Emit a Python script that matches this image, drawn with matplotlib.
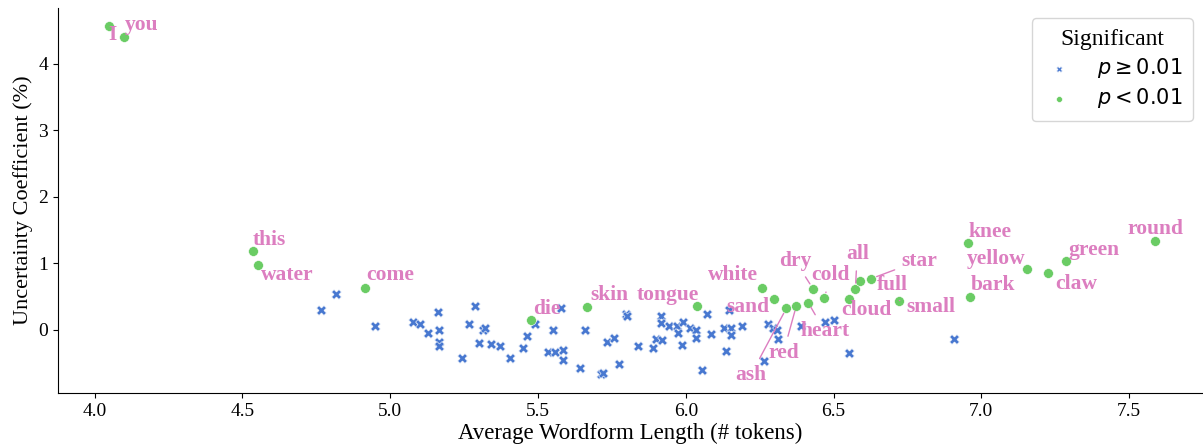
import matplotlib
matplotlib.use("Agg")
import matplotlib.pyplot as plt

# significant words (p < 0.01)
sig_words = ["I", "you", "this", "water", "come", "die", "skin", "tongue", "white", "sand",
             "ash", "red", "heart", "dry", "cold", "cloud", "all", "full", "star", "small",
             "knee", "bark", "yellow", "claw", "green", "round"]
sig_len = [4.047, 4.10, 4.535, 4.552, 4.914, 5.476, 5.666, 6.039, 6.259, 6.30,
           6.34, 6.374, 6.414, 6.43, 6.469, 6.553, 6.574, 6.59, 6.628, 6.723,
           6.956, 6.963, 7.156, 7.224, 7.285, 7.586]
sig_uc = [4.57, 4.41, 1.18, 0.97, 0.63, 0.14, 0.35, 0.36, 0.63, 0.47,
          0.32, 0.36, 0.41, 0.62, 0.48, 0.47, 0.62, 0.74, 0.77, 0.44,
          1.30, 0.50, 0.91, 0.86, 1.03, 1.34]
# where each label sits
label_x = [4.06, 4.16, 4.59, 4.65, 5.00, 5.53, 5.74, 5.94, 6.16, 6.21,
           6.22, 6.33, 6.47, 6.37, 6.49, 6.61, 6.58, 6.70, 6.79, 6.83,
           7.03, 7.04, 7.05, 7.32, 7.38, 7.59]
label_y = [4.44, 4.59, 1.35, 0.82, 0.82, 0.31, 0.52, 0.53, 0.82, 0.35,
           -0.68, -0.35, -0.02, 1.04, 0.82, 0.30, 1.14, 0.68, 1.04, 0.35,
           1.47, 0.68, 1.07, 0.69, 1.20, 1.52]
# words needing a leader line
linked = ["ash", "red", "heart", "dry", "cold", "all", "star", "small"]

# non-significant words (p >= 0.01)
ns_len = [4.816, 4.765, 4.948, 5.077, 5.10, 5.127, 5.16, 5.165, 5.165, 5.165,
          5.243, 5.265, 5.287, 5.30, 5.314, 5.32, 5.341, 5.371, 5.405, 5.45,
          5.463, 5.49, 5.55, 5.534, 5.558, 5.585, 5.585, 5.578, 5.642, 5.66,
          5.714, 5.72, 5.733, 5.757, 5.773, 5.797, 5.80, 5.839, 5.889, 5.90,
          5.92, 5.917, 5.917, 5.944, 5.97, 5.975, 5.99, 5.988, 6.015, 6.035,
          6.035, 6.056, 6.072, 6.085, 6.13, 6.137, 6.147, 6.154, 6.154, 6.19,
          6.265, 6.279, 6.296, 6.31, 6.313, 6.39, 6.472, 6.503, 6.553, 6.909]
ns_uc = [0.54, 0.29, 0.05, 0.12, 0.08, -0.05, 0.26, 0.0, -0.18, -0.25,
         -0.42, 0.09, 0.36, -0.20, 0.0, 0.03, -0.21, -0.24, -0.42, -0.28,
         -0.09, 0.08, -0.01, -0.34, -0.34, -0.31, -0.45, 0.33, -0.58, -0.01,
         -0.66, -0.65, -0.19, -0.12, -0.52, 0.24, 0.21, -0.24, -0.27, -0.14,
         -0.16, 0.20, 0.10, 0.05, 0.05, -0.05, 0.12, -0.23, 0.02, 0.0,
         -0.12, -0.60, 0.23, -0.06, 0.03, -0.32, 0.29, 0.02, -0.08, 0.06,
         -0.47, 0.08, 0.03, 0.0, -0.14, 0.05, 0.11, 0.15, -0.35, -0.14]

blue = "#4878d0"
green = "#6acc64"
pink = "#dc7ec0"

plt.rcParams['font.family'] = ['Liberation Serif', 'DejaVu Serif']

fig = plt.figure(figsize=(12.03, 4.47), dpi=100)
ax = fig.add_axes([0.048, 0.121, 0.952, 0.861])

ax.scatter(ns_len, ns_uc, marker="X", s=50, color=blue, edgecolor="white", linewidth=0.4,
           label=r"$p \geq 0.01$", zorder=3)
ax.scatter(sig_len, sig_uc, marker="o", s=50, color=green, edgecolor="white", linewidth=0.4,
           label=r"$p < 0.01$", zorder=3)

for w, x, y, tx, ty in zip(sig_words, sig_len, sig_uc, label_x, label_y):
    if w in linked:
        ax.annotate(w, xy=(x, y), xytext=(tx, ty), color=pink, fontsize=15.5, fontweight="bold",
                    ha="center", va="center",
                    arrowprops=dict(arrowstyle="-", color=pink, lw=1, shrinkA=3, shrinkB=4))
    else:
        ax.text(tx, ty, w, color=pink, fontsize=15.5, fontweight="bold", ha="center", va="center")

ax.set_xlim(3.875, 7.75)
ax.set_ylim(-0.95, 4.84)
ax.set_xticks([4.0, 4.5, 5.0, 5.5, 6.0, 6.5, 7.0, 7.5])
ax.set_yticks([0, 1, 2, 3, 4])
ax.tick_params(labelsize=14)
ax.set_xlabel("Average Wordform Length (# tokens)", fontsize=16.5, labelpad=2)
ax.set_ylabel("Uncertainty Coefficient (%)", fontsize=16)
ax.spines["top"].set_visible(False)
ax.spines["right"].set_visible(False)

leg = ax.legend(title="Significant", loc="upper right", fontsize=15, title_fontsize=17,
                markerscale=0.6, borderpad=0.5, handlelength=1.6, handletextpad=1.0,
                labelspacing=0.3)
leg.get_frame().set_edgecolor("#cccccc")

plt.savefig("out.png", dpi=100)
